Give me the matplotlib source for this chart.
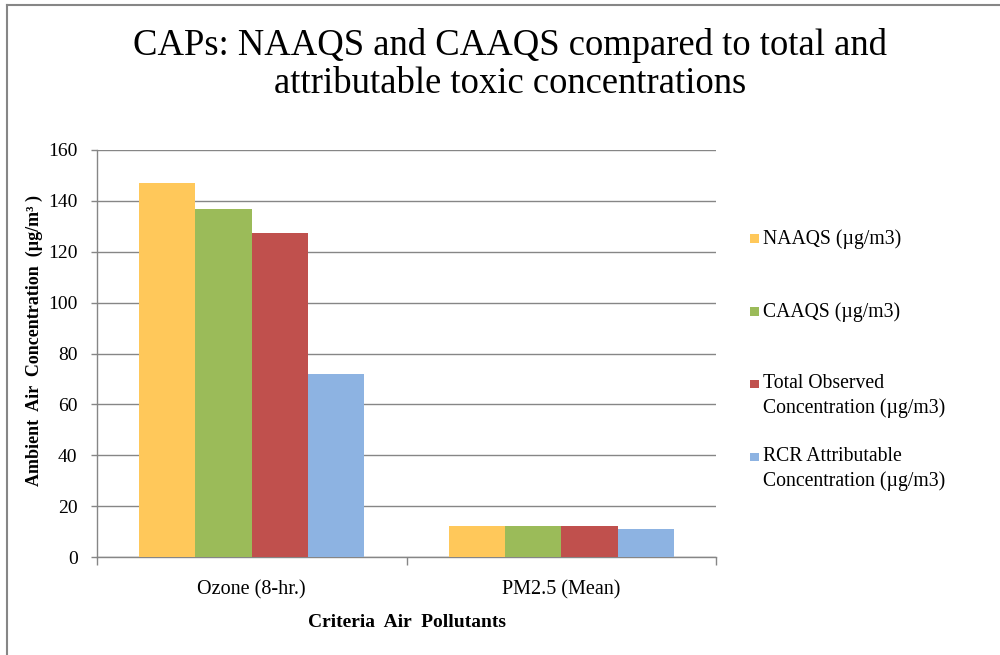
import matplotlib
matplotlib.use("Agg")
import matplotlib.pyplot as plt
from matplotlib.patches import Rectangle
from matplotlib.lines import Line2D
import numpy as np

plt.rcParams['font.family'] = ['Liberation Serif', 'DejaVu Serif']

categories = ["Ozone (8-hr.)", "PM2.5 (Mean)"]
series_names = ["NAAQS (µg/m3)", "CAAQS (µg/m3)",
                "Total Observed\nConcentration (µg/m3)",
                "RCR Attributable\nConcentration (µg/m3)"]
naaqs = [147, 12]
caaqs = [137, 12]
total_obs = [127.5, 12]
rcr_attr = [72, 11]
series_values = [naaqs, caaqs, total_obs, rcr_attr]
colors = ["#FFC85A", "#9BBB59", "#C0504D", "#8DB3E2"]
yticks = [0, 20, 40, 60, 80, 100, 120, 140, 160]

fig = plt.figure(figsize=(10, 6.55), dpi=100)
ax = fig.add_axes([0.097, 0.1496, 0.619, 0.6214])

x = np.arange(len(categories))
bw = 0.182
n = len(series_values)
for i, (vals, col) in enumerate(zip(series_values, colors)):
    pos = x + (i - (n - 1) / 2) * bw
    ax.bar(pos, vals, width=bw, color=col, zorder=3, linewidth=0)

ax.set_xlim(-0.5, len(categories) - 0.5)
ax.set_ylim(0, 160)
ax.set_yticks(yticks)
ax.set_yticklabels([str(v) for v in yticks], fontsize=14)
ax.yaxis.grid(True, color="#868686", linewidth=1.0, zorder=0)
ax.set_axisbelow(True)

ax.set_xticks(x)
ax.set_xticklabels(categories, fontsize=14.5)
ax.tick_params(axis='x', length=0, pad=17)
ax.set_xticks(np.arange(-0.5, len(categories)), minor=True)
ax.tick_params(axis='x', which='minor', length=6, color="#868686", width=1)
ax.tick_params(axis='y', length=4, color="#868686", width=1, pad=10)

for s in ['top', 'right']:
    ax.spines[s].set_visible(False)
for s in ['left', 'bottom']:
    ax.spines[s].set_color("#868686")
    ax.spines[s].set_linewidth(1)

ax.set_xlabel("Criteria  Air  Pollutants", fontsize=14, fontweight='bold', labelpad=10)
ax.set_ylabel("Ambient  Air  Concentration  (µg/m³ )", fontsize=13, fontweight='bold')
ax.yaxis.set_label_coords(-0.088, 0.533)

fig.text(0.51, 0.902, "CAPs: NAAQS and CAAQS compared to total and\nattributable toxic concentrations",
         ha='center', va='center', fontsize=26.4, linespacing=1.14)

# legend
leg_y = [239, 312, 396, 469]
for name, col, yy in zip(series_names, colors, leg_y):
    fy = 1 - yy / 655
    fig.patches.append(Rectangle((750 / 1000, fy - 0.006 + (0.0175 if '\n' in name else 0)),
                                 0.009, 0.0135, transform=fig.transFigure,
                                 facecolor=col, edgecolor='none'))
    fig.text(0.763, fy, name, ha='left', va='center', fontsize=14.2, linespacing=1.38)

# outer border (top and left)
fig.add_artist(Line2D([0.007, 1.0], [1 - 5 / 655, 1 - 5 / 655], transform=fig.transFigure,
                      color="#868686", linewidth=1.5))
fig.add_artist(Line2D([0.007, 0.007], [0, 1 - 5 / 655], transform=fig.transFigure,
                      color="#868686", linewidth=1.5))

fig.savefig("out.png", dpi=100)
